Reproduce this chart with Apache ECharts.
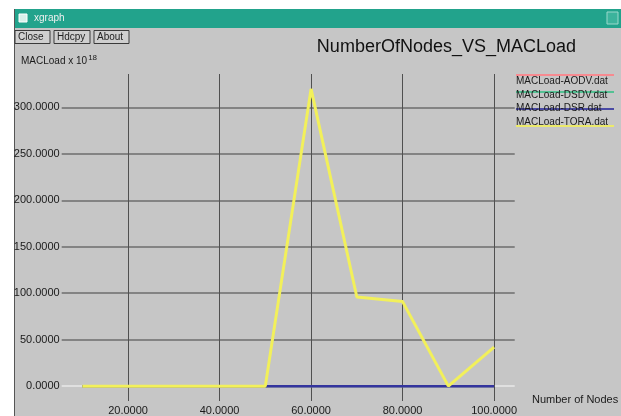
<!DOCTYPE html>
<html>
<head>
<meta charset="utf-8">
<script src="https://cdn.jsdelivr.net/npm/echarts@6/dist/echarts.min.js"></script>
<style>
  html, body { margin: 0; padding: 0; background: #ffffff; }
  #chart { width: 621px; height: 416px; }
</style>
</head>
<body>
<div id="chart"></div>
<script>
// number of nodes on the x axis
const nodes = [10, 20, 30, 40, 50, 60, 70, 80, 90, 100]
// MAC load (x 10^18) per protocol
const aodv = [0, 0, 0, 0, 0, 0, 0, 0, 0, 0]
const dsdv = [0, 0, 0, 0, 0, 0, 0, 0, 0, 0]
const dsr = [0, 0, 0, 0, 0, 0, 0, 0, 0, 0]
const tora = [0, 0, 0, 0, 0, 320, 96, 91, 0, 42]

const seriesNames = ['MACLoad-AODV.dat', 'MACLoad-DSDV.dat', 'MACLoad-DSR.dat', 'MACLoad-TORA.dat']
const seriesColors = ['#ff7f86', '#3fbf8a', '#34349e', '#f2f05a']
const xTicks = [20, 40, 60, 80, 100]
const yTicks = [0, 50, 100, 150, 200, 250, 300]

const chart = echarts.init(document.getElementById('chart'))

const pairs = arr => nodes.map((n, i) => [n, arr[i]])
const FONT = '"Liberation Sans", Arial, sans-serif'

// xgraph style legend: a coloured line near each file name
const legendItems = []
seriesNames.forEach((name, i) => {
  const ly = 75 + i * 17
  legendItems.push({
    type: 'line', silent: true,
    shape: { x1: 516, y1: ly, x2: 614, y2: ly },
    style: { stroke: seriesColors[i], lineWidth: 2, opacity: 0.85 }
  })
  legendItems.push({
    type: 'text', silent: true, left: 516, top: 76 + i * 13.8,
    style: { text: name, font: '10px ' + FONT, fill: '#1a1a1a' }
  })
})

const button = (x, w, label) => ([
  {
    type: 'rect', silent: true,
    shape: { x: x, y: 30.5, width: w, height: 13 },
    style: { fill: '#cfcfcf', stroke: '#3a3a3a', lineWidth: 1 }
  },
  {
    type: 'text', silent: true, left: x + 3, top: 32,
    style: { text: label, font: '10px ' + FONT, fill: '#222' }
  }
])

const option = {
  backgroundColor: '#ffffff',
  animation: false,
  title: {
    text: 'NumberOfNodes_VS_MACLoad',
    right: 40,
    top: 33,
    textStyle: { fontFamily: FONT, fontSize: 18, fontWeight: 'normal', color: '#111' }
  },
  graphic: [
    // window body and title bar
    { type: 'rect', silent: true, z: -10, shape: { x: 14, y: 9, width: 607, height: 407 }, style: { fill: '#c6c6c6' } },
    { type: 'rect', silent: true, z: -9, shape: { x: 14, y: 9, width: 607, height: 19 }, style: { fill: '#22a38c' } },
    { type: 'line', silent: true, shape: { x1: 14.5, y1: 9, x2: 14.5, y2: 416 }, style: { stroke: '#555', lineWidth: 1 } },
    { type: 'rect', silent: true, shape: { x: 19, y: 14, width: 8, height: 8 }, style: { fill: '#d8f0ea', stroke: '#ffffff' } },
    { type: 'text', silent: true, left: 34, top: 13, style: { text: 'xgraph', font: '10px ' + FONT, fill: '#f0f0f0' } },
    { type: 'rect', silent: true, shape: { x: 607, y: 12, width: 11, height: 12 }, style: { fill: '#3cb39c', stroke: '#9ad8cc' } },
    ...button(15, 35, 'Close'),
    ...button(54, 36, 'Hdcpy'),
    ...button(94, 35, 'About'),
    {
      type: 'text', silent: true, left: 21, top: 54,
      style: {
        text: '{a|MACLoad x 10}{s|18}',
        rich: {
          a: { font: '10px ' + FONT, fill: '#1a1a1a' },
          s: { font: '8px ' + FONT, fill: '#1a1a1a', verticalAlign: 'top', padding: [0, 0, 6, 1] }
        }
      }
    },
    {
      type: 'text', silent: true, left: 532, top: 394,
      style: { text: 'Number of Nodes', font: '11px ' + FONT, fill: '#1a1a1a' }
    },
    ...legendItems
  ],
  grid: { left: 61.7, top: 74, width: 453, height: 327 },
  xAxis: {
    type: 'value',
    min: 5.5,
    max: 104.5,
    axisLine: { show: false },
    axisTick: { show: true, customValues: xTicks, length: 3, lineStyle: { color: '#4a4a4a' } },
    axisLabel: {
      customValues: xTicks,
      margin: 4,
      color: '#1a1a1a',
      fontSize: 11,
      fontFamily: FONT,
      formatter: v => v.toFixed(4)
    },
    splitLine: { show: true, lineStyle: { color: '#505050', width: 1 } }
  },
  yAxis: {
    type: 'value',
    min: -16,
    max: 336,
    axisLine: { show: false },
    axisTick: { show: false, customValues: yTicks },
    axisLabel: {
      customValues: yTicks,
      margin: 2,
      color: '#1a1a1a',
      fontSize: 11,
      fontFamily: FONT,
      formatter: v => v.toFixed(4)
    },
    // the zero line is drawn light, the others dark grey
    splitLine: {
      show: true,
      lineStyle: {
        color: ['#e8e8e8', '#6c6c6c', '#6c6c6c', '#6c6c6c', '#6c6c6c', '#6c6c6c', '#6c6c6c'],
        width: 1.5
      }
    }
  },
  series: [
    { name: seriesNames[0], type: 'line', data: pairs(aodv), symbol: 'none', lineStyle: { color: seriesColors[0], width: 2 } },
    { name: seriesNames[1], type: 'line', data: pairs(dsdv), symbol: 'none', lineStyle: { color: seriesColors[1], width: 2 } },
    { name: seriesNames[2], type: 'line', data: pairs(dsr), symbol: 'none', lineStyle: { color: seriesColors[2], width: 2.5 } },
    { name: seriesNames[3], type: 'line', data: pairs(tora), symbol: 'none', lineStyle: { color: seriesColors[3], width: 3 } }
  ]
}

chart.setOption(option)
</script>
</body>
</html>
